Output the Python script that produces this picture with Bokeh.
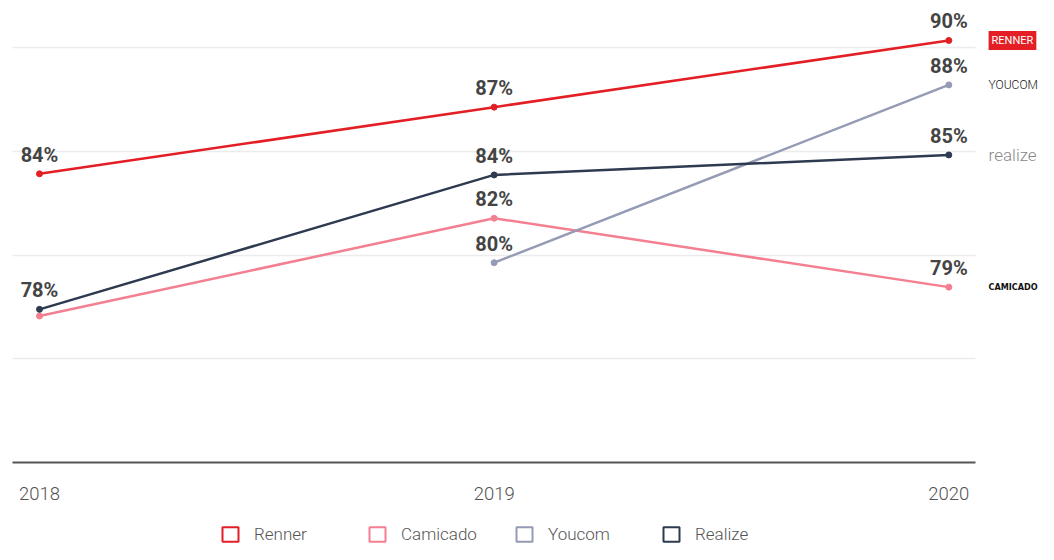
from bokeh.plotting import figure
from bokeh.models import FixedTicker, Range1d, Legend, LegendItem, Label
from bokeh.embed import file_html
from bokeh.resources import INLINE
from bokeh.core.properties import value

years = [2018, 2019, 2020]
renner = [84.0, 87.0, 90.0]
camicado = [77.6, 82.0, 78.9]
youcom_years = [2019, 2020]
youcom = [80.0, 88.0]
realize = [77.9, 83.95, 84.85]

renner_labels = ["84%", "87%", "90%"]
camicado_labels = ["", "82%", "79%"]
youcom_labels = ["80%", "88%"]
realize_labels = ["78%", "84%", "85%"]

grid_values = [75.67, 80.33, 85.0, 89.67]
axis_base = 70.985
year_labels = {2018: "2018", 2019: "2019", 2020: "2020"}

names = ["Renner", "Camicado", "Youcom", "Realize"]
colors = {"Renner": "#e31e24", "Camicado": "#f47f91", "Youcom": "#959bb5", "Realize": "#2e3a50"}

# layout constants
X0, X1 = 2017.91422, 2020.19729
Y0, Y1 = 67.317, 91.80
PLOT_X = (2017.9406, 2020.0588)
NAN = float("nan")

p = figure(width=1038, height=544, output_backend="svg", toolbar_location=None,
           x_range=Range1d(X0, X1), y_range=Range1d(Y0, Y1),
           min_border_left=0, min_border_right=0, min_border_top=0, min_border_bottom=0)
p.outline_line_color = None
p.background_fill_color = "white"
p.border_fill_color = "white"

p.yaxis.visible = False
p.xgrid.visible = False
p.ygrid.ticker = FixedTicker(ticks=grid_values)
p.ygrid.grid_line_color = "#ececec"
p.ygrid.grid_line_width = 1.5
p.ygrid.cross_bounds = PLOT_X

xa = p.xaxis[0]
xa.fixed_location = axis_base
xa.bounds = PLOT_X
xa.ticker = FixedTicker(ticks=years)
xa.major_label_overrides = year_labels
xa.major_tick_line_color = None
xa.minor_tick_line_color = None
xa.axis_line_color = "#555555"
xa.axis_line_width = 2
xa.major_label_text_font = "Roboto Light"
xa.major_label_text_font_size = "18.5px"
xa.major_label_text_color = "#555555"
xa.major_label_standoff = 18

series = [
    ("Camicado", years, camicado, camicado_labels),
    ("Youcom", youcom_years, youcom, youcom_labels),
    ("Realize", years, realize, realize_labels),
    ("Renner", years, renner, renner_labels),
]
for name, xs, ys, labs in series:
    c = colors[name]
    p.line(xs, ys, line_color=c, line_width=2.5)
    p.scatter(xs, ys, size=6, fill_color=c, line_color=c, marker="circle")
    p.text(xs, ys, text=labs, text_align="center", text_baseline="middle", y_offset=-19,
           text_font=value("Roboto"), text_font_style="bold", text_font_size="20px",
           text_color="#444444")

# legend (square outline swatches)
items = []
for name in names:
    r = p.quad(left=[NAN], right=[NAN], top=[NAN], bottom=[NAN], fill_color="white",
               line_color=colors[name], line_width=2)
    items.append(LegendItem(label=name, renderers=[r]))
legend = Legend(items=items, orientation="horizontal", location=(220, 0),
                glyph_width=20, glyph_height=18, label_height=18, label_standoff=14,
                label_width=95, spacing=18, padding=0, margin=0,
                border_line_color=None, background_fill_alpha=0,
                label_text_font="Roboto Light", label_text_font_size="17px",
                label_text_color="#555555")
p.add_layout(legend, "center")

# logos at the right, aligned with each series' last value
logo_x = 2020.0875
p.add_layout(Label(x=logo_x, y=renner[-1], text="RENNER", text_color="white",
                   text_font="Roboto", text_font_size="11px", text_baseline="middle",
                   background_fill_color="#e31e24", padding=3))
p.add_layout(Label(x=logo_x, y=youcom[-1], text="YOUCOM", text_color="#111111",
                   text_font="Roboto Light", text_font_size="12px",
                   text_baseline="middle"))
p.add_layout(Label(x=logo_x, y=realize[-1], text="realize", text_color="#888888",
                   text_font="Roboto Light", text_font_size="17px", text_baseline="middle"))
p.add_layout(Label(x=logo_x, y=camicado[-1], text="CAMICADO", text_color="#111111",
                   text_font="DejaVu Sans Condensed", text_font_style="bold",
                   text_font_size="9px", text_baseline="middle"))

open("out.html", "w").write(file_html(p, INLINE))
